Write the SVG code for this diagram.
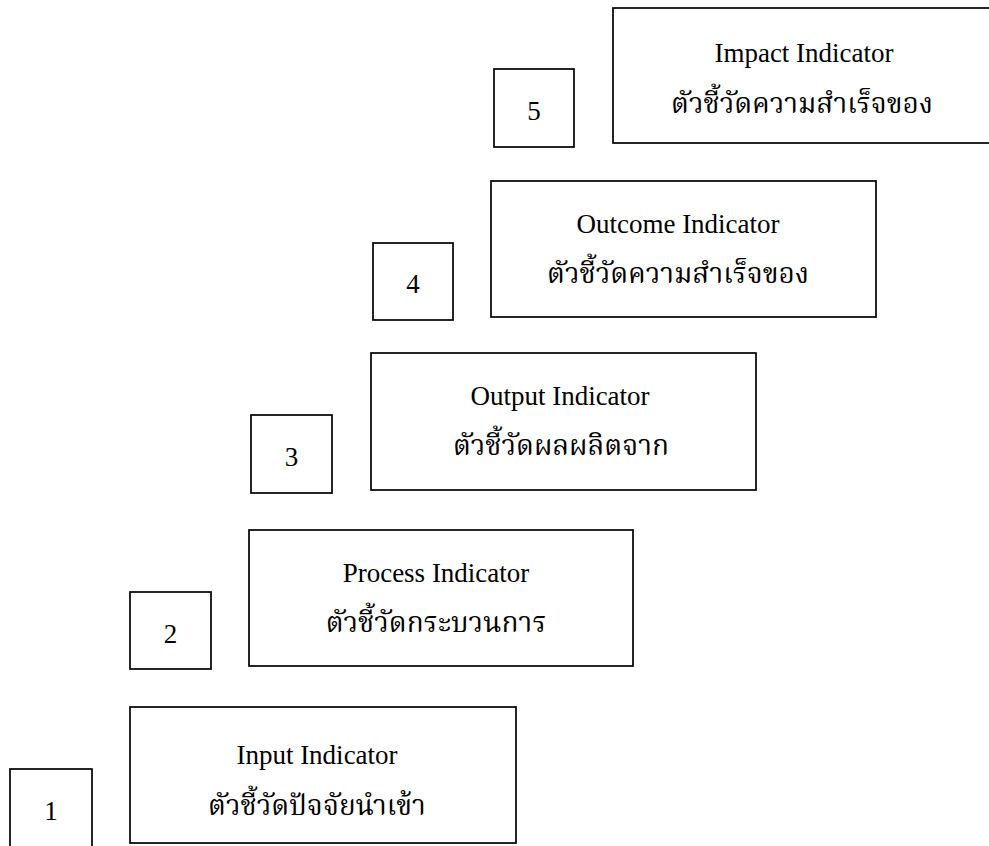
<svg xmlns="http://www.w3.org/2000/svg" width="989" height="846" viewBox="0 0 989 846">
  <style>
    .box { fill: #ffffff; stroke: #000000; stroke-width: 1.7; }
    .en { font-family: "Liberation Serif", "Times New Roman", serif; font-size: 27px; fill: #000000; text-anchor: middle; }
    .th { font-family: "Liberation Serif", "Noto Serif Thai", "Noto Sans Thai", serif; font-size: 28px; fill: #000000; text-anchor: middle; }
    .num { font-family: "Liberation Serif", "Times New Roman", serif; font-size: 27px; fill: #000000; text-anchor: middle; }
  </style>
  <rect width="989" height="846" fill="#ffffff"/>

  <!-- step 1 -->
  <g id="step1-number">
    <rect class="box" x="10" y="769" width="82" height="90"/>
    <text class="num" x="51" y="820">1</text>
  </g>
  <g id="step1-input">
    <rect class="box" x="130" y="707" width="386" height="136"/>
    <text class="en" x="317" y="764">Input Indicator</text>
    <text class="th" x="317" y="815">ตัวชี้วัดปัจจัยนำเข้า</text>
  </g>

  <!-- step 2 -->
  <g id="step2-number">
    <rect class="box" x="130" y="592" width="81" height="77"/>
    <text class="num" x="170.5" y="643">2</text>
  </g>
  <g id="step2-process">
    <rect class="box" x="249" y="530" width="384" height="136"/>
    <text class="en" x="436" y="582">Process Indicator</text>
    <text class="th" x="436" y="632">ตัวชี้วัดกระบวนการ</text>
  </g>

  <!-- step 3 -->
  <g id="step3-number">
    <rect class="box" x="251" y="415" width="81" height="78"/>
    <text class="num" x="291.5" y="466">3</text>
  </g>
  <g id="step3-output">
    <rect class="box" x="371" y="353" width="385" height="137"/>
    <text class="en" x="560" y="405">Output Indicator</text>
    <text class="th" x="561" y="455">ตัวชี้วัดผลผลิตจาก</text>
  </g>

  <!-- step 4 -->
  <g id="step4-number">
    <rect class="box" x="373" y="243" width="80" height="77"/>
    <text class="num" x="413" y="293">4</text>
  </g>
  <g id="step4-outcome">
    <rect class="box" x="491" y="181" width="385" height="136"/>
    <text class="en" x="678" y="233">Outcome Indicator</text>
    <text class="th" x="678" y="283">ตัวชี้วัดความสำเร็จของ</text>
  </g>

  <!-- step 5: box runs past the right edge of the page -->
  <g id="step5-number">
    <rect class="box" x="494" y="69" width="80" height="78"/>
    <text class="num" x="534" y="120">5</text>
  </g>
  <g id="step5-impact">
    <rect class="box" x="613" y="8" width="390" height="135"/>
    <text class="en" x="804" y="62">Impact Indicator</text>
    <text class="th" x="802" y="113">ตัวชี้วัดความสำเร็จของ</text>
  </g>

  <g id="connectors"></g>
</svg>
